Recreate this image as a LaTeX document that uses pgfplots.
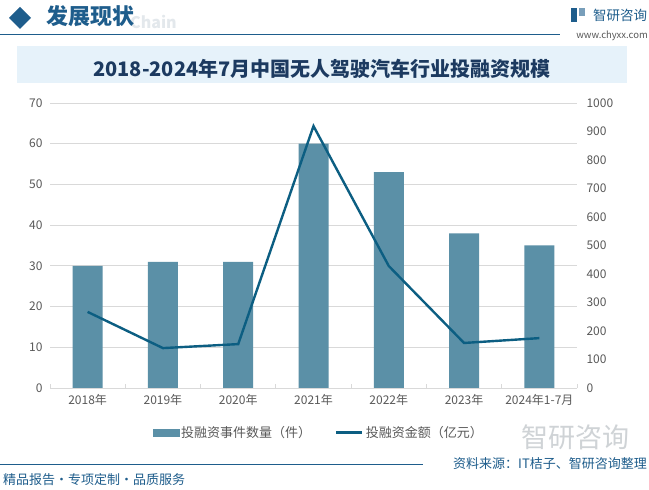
\documentclass[border=0pt]{standalone}
\usepackage{pgfplots}
\pgfplotsset{compat=1.18}
\usepackage{fontspec}
\setmainfont{Noto Sans CJK SC}
\definecolor{barc}{HTML}{5B90A7}
\definecolor{linec}{HTML}{0C5E82}
\definecolor{navy}{HTML}{1C3A60}
\definecolor{hdr}{HTML}{1E5D8C}
\definecolor{boxc}{HTML}{E6F2FA}
\definecolor{gridc}{HTML}{D9D9D9}
\definecolor{tickc}{HTML}{595959}
\definecolor{wm}{HTML}{E3E8EC}
\begin{document}
\begin{tikzpicture}[x=1pt,y=1pt]
\path[use as bounding box] (0pt,0pt) rectangle (649pt,490pt);
\fill[white] (0,0) rectangle (649,490);
% header
\fill[hdr] (20,490-7) -- (31,490-18) -- (20,490-29) -- (9,490-18) -- cycle;
\node[anchor=west, text=wm, font=\fontsize{16}{16}\selectfont\bfseries, inner sep=0] at (130,490-22) {Chain};
\node[anchor=west, text=hdr, font=\fontsize{22}{22}\selectfont\bfseries, inner sep=0] at (46,490-16) {发展现状};
\draw[hdr, line width=1pt] (0,490-35) -- (560,490-35);
\fill[hdr] (571,490-8) rectangle (577,490-22);
\fill[hdr!60] (579,490-8) rectangle (585,490-16);
\node[anchor=west, text=hdr, font=\fontsize{13.5}{13.5}\selectfont, inner sep=0] at (593,490-15) {智研咨询};
\node[anchor=east, text=tickc, font=\fontsize{9.5}{9.5}\selectfont, inner sep=0] at (648,490-36) {www.chyxx.com};
% title box
\fill[boxc] (17,490-46) rectangle (627,490-83);
\node[text=navy, font=\fontsize{20}{20}\selectfont\bfseries, inner sep=0] at (322,490-69) {2018-2024年7月中国无人驾驶汽车行业投融资规模};
% footer
\draw[hdr, line width=1pt] (0,490-465) -- (423,490-465);
\node[anchor=west, text=hdr, font=\fontsize{13}{13}\selectfont, inner sep=0] at (3,490-480) {精品报告・专项定制・品质服务};
\node[anchor=east, text=wm!80!gray, font=\fontsize{27}{27}\selectfont, inner sep=0] at (630,490-437) {智研咨询};
\node[anchor=east, text=hdr, font=\fontsize{13}{13}\selectfont, inner sep=0] at (647,490-464) {资料来源：IT桔子、智研咨询整理};

\begin{axis}[
  at={(50pt,102pt)}, anchor=south west, scale only axis,
  width=527pt, height=285pt,
  xmin=-0.5, xmax=6.5, ymin=0, ymax=70,
  ytick={0,10,...,70},
  xtick={0,...,6},
  xticklabels={2018年,2019年,2020年,2021年,2022年,2023年,2024年1-7月},
  minor xtick={-0.5,0.5,...,6.5},
  axis x line*=bottom, axis y line*=left,
  y axis line style={draw=none},
  x axis line style={gridc, line width=0.8pt},
  major tick length=0pt, minor tick length=4pt,
  minor tick style={gridc, line width=0.8pt},
  ymajorgrids, grid style={gridc, line width=0.8pt},
  tick label style={text=tickc, font=\fontsize{12}{12}\selectfont},
  /pgf/number format/assume math mode=true,
  yticklabel style={xshift=-4pt},
  xticklabel style={yshift=-3pt},
]
\addplot[ybar, bar width=30pt, fill=barc, draw=none, bar shift=0pt] coordinates {
(0,30) (1,31) (2,31) (3,60) (4,53) (5,38) (6,35)};
\end{axis}

\begin{axis}[
  at={(50pt,102pt)}, anchor=south west, scale only axis,
  width=527pt, height=285pt,
  xmin=-0.5, xmax=6.5, ymin=0, ymax=1000,
  ytick={0,100,...,1000},
  axis y line*=right, axis x line=none,
  y axis line style={draw=none},
  major tick length=0pt,
  tick label style={text=tickc, font=\fontsize{12}{12}\selectfont},
  /pgf/number format/assume math mode=true,
  /pgf/number format/1000 sep={},
  yticklabel style={xshift=6pt},
  legend columns=2,
  legend style={at={(0.51,-0.12)}, anchor=north, draw=none, fill=none,
    font=\fontsize{13}{13}\selectfont, text=tickc,
    /tikz/every even column/.append style={column sep=22pt}},
]
\addlegendimage{legend image code/.code={\fill[barc] (0pt,-3.5pt) rectangle (26pt,3.5pt);}}
\addlegendentry{投融资事件数量（件）}
\addplot[linec, line width=2.4pt, no marks, legend image code/.code={\draw[linec, line width=2.6pt] (0pt,0pt) -- (26pt,0pt);}] coordinates {
(0,267) (1,140) (2,154) (3,919) (4,428) (5,158) (6,175)};
\addlegendentry{投融资金额（亿元）}
\end{axis}
\end{tikzpicture}
\end{document}
